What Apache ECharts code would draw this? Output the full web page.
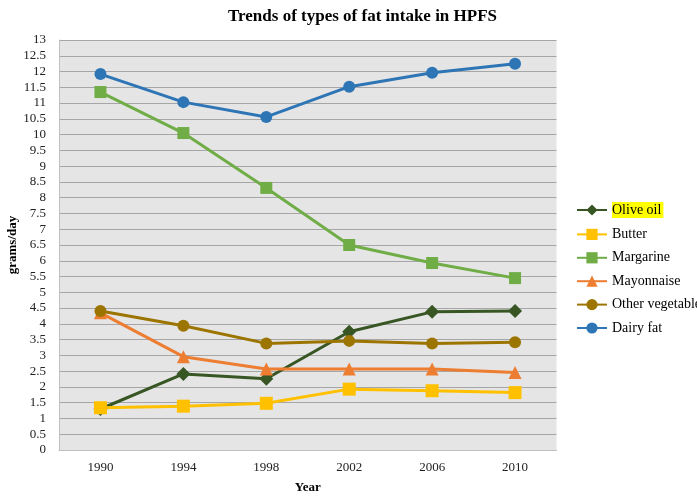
<!DOCTYPE html>
<html><head><meta charset="utf-8">
<script src="https://cdn.jsdelivr.net/npm/echarts@6/dist/echarts.min.js"></script>
<style>html,body{margin:0;padding:0;background:#fff}#c{width:697px;height:496px}</style>
</head><body><div id="c"></div>
<script>
const years = ['1990','1994','1998','2002','2006','2010'];
const oliveOil = [1.3, 2.41, 2.26, 3.75, 4.38, 4.41];
const butter = [1.34, 1.39, 1.48, 1.93, 1.88, 1.82];
const margarine = [11.35, 10.05, 8.31, 6.5, 5.93, 5.45];
const mayonnaise = [4.35, 2.96, 2.57, 2.57, 2.57, 2.46];
const otherVeg = [4.41, 3.94, 3.38, 3.46, 3.38, 3.42];
const dairyFat = [11.92, 11.03, 10.56, 11.52, 11.96, 12.25];
const yTicks = [0,0.5,1,1.5,2,2.5,3,3.5,4,4.5,5,5.5,6,6.5,7,7.5,8,8.5,9,9.5,10,10.5,11,11.5,12,12.5,13];

const serif = '"Liberation Serif", "DejaVu Serif", serif';
function mk(name, data, color, symbol, size) {
  return {name, type:'line', data, symbol, symbolSize:size,
    lineStyle:{color, width:3}, itemStyle:{color}, z: 3};
}
const chart = echarts.init(document.getElementById('c'));
chart.setOption({
  animation:false,
  backgroundColor:'#fff',
  title:{text:'Trends of types of fat intake in HPFS', left:223, top:3,
    textStyle:{fontFamily:serif, fontSize:17, fontWeight:'bold', color:'#000'}},
  grid:{left:59, right:140.5, top:40, bottom:46, show:true, backgroundColor:'#e5e5e5', borderWidth:0,
    containLabel:false, outerBoundsMode:'none'},
  xAxis:{type:'category', data:years, boundaryGap:true, name:'Year', nameLocation:'middle', nameGap:31,
    nameMoveOverlap:false,
    nameTextStyle:{fontFamily:serif, fontSize:13, fontWeight:'bold', color:'#000'},
    axisLine:{lineStyle:{color:'#bfbfbf'}}, axisTick:{show:false},
    axisLabel:{fontFamily:serif, fontSize:13, color:'#222', margin:11}},
  yAxis:{type:'value', min:0, max:13, interval:0.5, name:'grams/day', nameLocation:'middle', nameGap:40,
    nameMoveOverlap:false,
    nameTextStyle:{fontFamily:serif, fontSize:13, fontWeight:'bold', color:'#000'},
    axisLine:{show:true, lineStyle:{color:'#bfbfbf'}}, axisTick:{show:false},
    axisLabel:{fontFamily:serif, fontSize:13, color:'#222', margin:13,
      formatter: v => yTicks.includes(v) ? String(v) : ''},
    splitLine:{lineStyle:{color:'#a6a6a6', width:1}}},
  legend:{orient:'vertical', left:571, top:197, itemGap:9.4, itemWidth:30, itemHeight:14,
    textStyle:{fontFamily:serif, fontSize:14, color:'#000',
      rich:{hl:{backgroundColor:'#ffff00', fontFamily:serif, fontSize:14, color:'#000', padding:[1,2,1,0]}}},
    formatter: n => n === 'Olive oil' ? '{hl|Olive oil}' : n,
    data:['Olive oil','Butter','Margarine','Mayonnaise','Other vegetable oil','Dairy fat']},
  series:[
    mk('Olive oil', oliveOil, '#375623', 'diamond', 14),
    mk('Butter', butter, '#ffc000', 'rect', 13),
    mk('Margarine', margarine, '#70ad47', 'rect', 12),
    mk('Mayonnaise', mayonnaise, '#ed7d31', 'triangle', 13),
    mk('Other vegetable oil', otherVeg, '#9c7400', 'circle', 12),
    mk('Dairy fat', dairyFat, '#2e75b6', 'circle', 12)
  ]
});
</script></body></html>
